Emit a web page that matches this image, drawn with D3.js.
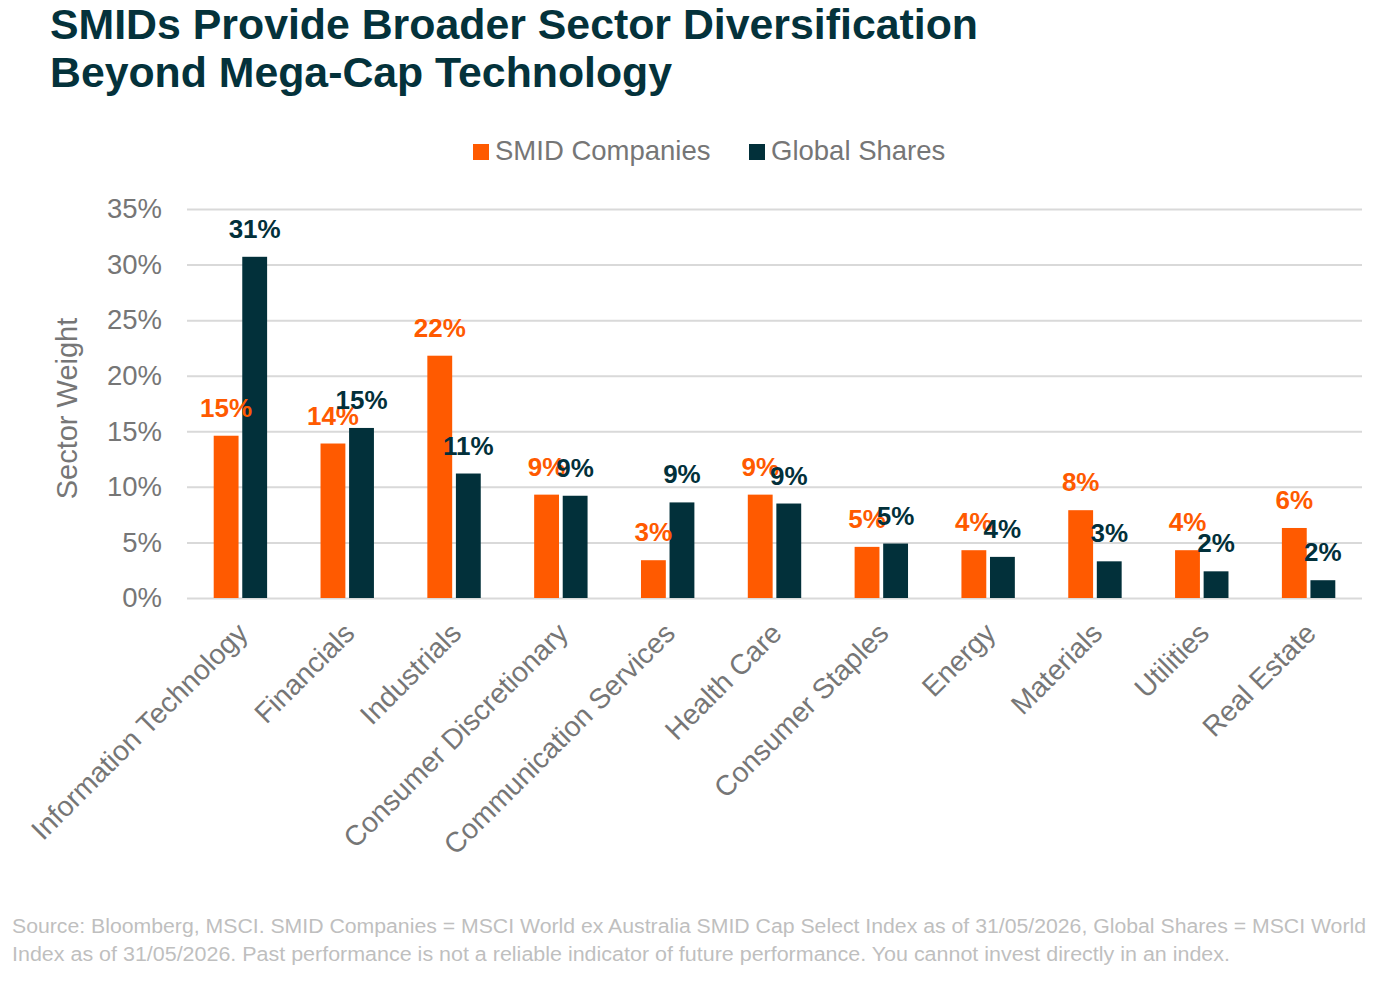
<!DOCTYPE html>
<html>
<head>
<meta charset="utf-8">
<script src="https://cdn.jsdelivr.net/npm/d3@7"></script>
<style>
  body { margin: 0; background: #fff; }
  svg { display: block; font-family: "Liberation Sans", Arial, sans-serif; }
</style>
</head>
<body>
<div id="chart"></div>
<script>
// chart data
const sectors = ["Information Technology", "Financials", "Industrials", "Consumer Discretionary",
  "Communication Services", "Health Care", "Consumer Staples", "Energy", "Materials", "Utilities", "Real Estate"];
const smidValues = [14.6, 13.9, 21.8, 9.3, 3.4, 9.3, 4.6, 4.3, 7.9, 4.3, 6.3];
const globalValues = [30.7, 15.3, 11.2, 9.2, 8.6, 8.5, 4.9, 3.7, 3.3, 2.4, 1.6];
const seriesNames = ["SMID Companies", "Global Shares"];
const yTicks = [0, 5, 10, 15, 20, 25, 30, 35];

const width = 1396, height = 981;
const plot = { left: 187, right: 1362, top: 209, bottom: 598 };
const colors = ["#FF5A00", "#02303A"];
const grey = "#767676";

const svg = d3.select("#chart").append("svg")
  .attr("width", width)
  .attr("height", height);

// title
const title = svg.append("g").attr("fill", "#04323B").attr("font-weight", "bold").attr("font-size", 43);
title.append("text").attr("x", 50).attr("y", 39)
  .attr("textLength", 928).attr("lengthAdjust", "spacingAndGlyphs")
  .text("SMIDs Provide Broader Sector Diversification");
title.append("text").attr("x", 50).attr("y", 87)
  .attr("textLength", 622).attr("lengthAdjust", "spacingAndGlyphs")
  .text("Beyond Mega-Cap Technology");

// scales
const x0 = d3.scaleBand().domain(sectors)
  .range([plot.left, plot.right]).paddingInner(0.5).paddingOuter(0.25);
const x1 = d3.scaleBand().domain(seriesNames)
  .range([0, x0.bandwidth()]).paddingInner(0.13);
const y = d3.scaleLinear().domain([0, 35]).range([plot.bottom, plot.top]);

// gridlines + y axis
const yAxis = d3.axisLeft(y).tickValues(yTicks)
  .tickSize(-(plot.right - plot.left)).tickFormat(d => d + "%");
const gy = svg.append("g").attr("transform", `translate(${plot.left},0)`).call(yAxis);
gy.select(".domain").remove();
gy.selectAll(".tick line").attr("stroke", "#D9D9D9").attr("stroke-width", 2);
gy.selectAll(".tick text").attr("x", -25).attr("fill", grey)
  .attr("font-size", 27.5).attr("font-family", "Liberation Sans, Arial, sans-serif");

svg.append("text")
  .attr("transform", `translate(77,${(plot.top + plot.bottom) / 2 + 5}) rotate(-90)`)
  .attr("text-anchor", "middle").attr("fill", grey).attr("font-size", 29)
  .text("Sector Weight");

// x axis labels
const gx = svg.append("g").attr("transform", `translate(0,${plot.bottom})`)
  .call(d3.axisBottom(x0).tickSize(0));
gx.select(".domain").remove();
gx.selectAll(".tick text")
  .attr("fill", grey).attr("font-size", 28.3)
  .attr("font-family", "Liberation Sans, Arial, sans-serif")
  .attr("text-anchor", "end")
  .attr("dy", "0.35em").attr("y", 0)
  .attr("transform", "translate(2,30) rotate(-45)");

// bars
const rows = sectors.map((s, i) => ({ sector: s, vals: [smidValues[i], globalValues[i]] }));
const groups = svg.append("g").selectAll("g").data(rows).enter().append("g")
  .attr("transform", d => `translate(${x0(d.sector)},0)`);

groups.selectAll("rect")
  .data(d => d.vals.map((v, k) => ({ v, k })))
  .enter().append("rect")
  .attr("x", d => x1(seriesNames[d.k]))
  .attr("width", x1.bandwidth())
  .attr("y", d => y(d.v))
  .attr("height", d => y(0) - y(d.v))
  .attr("fill", d => colors[d.k]);

groups.selectAll("text.lbl")
  .data(d => d.vals.map((v, k) => ({ v, k })))
  .enter().append("text")
  .attr("class", "lbl")
  .attr("x", d => x1(seriesNames[d.k]) + x1.bandwidth() / 2)
  .attr("y", d => y(d.v) - 19)
  .attr("text-anchor", "middle")
  .attr("font-weight", "bold").attr("font-size", 26)
  .attr("fill", d => colors[d.k])
  .text(d => Math.round(d.v) + "%");

// legend
const legend = svg.append("g");
const legendX = [473, 749];
seriesNames.forEach((name, k) => {
  legend.append("rect").attr("x", legendX[k]).attr("y", 144)
    .attr("width", 16).attr("height", 16).attr("fill", colors[k]);
  legend.append("text").attr("x", legendX[k] + 22).attr("y", 160)
    .attr("fill", grey).attr("font-size", 27.5)
    .text(name);
});

// footnote
const foot = svg.append("g").attr("fill", "#BFBFBF").attr("font-size", 19.5);
foot.append("text").attr("x", 12).attr("y", 933)
  .attr("textLength", 1354).attr("lengthAdjust", "spacingAndGlyphs")
  .text("Source: Bloomberg, MSCI. SMID Companies = MSCI World ex Australia SMID Cap Select Index as of 31/05/2026, Global Shares = MSCI World");
foot.append("text").attr("x", 12).attr("y", 961)
  .attr("textLength", 1218).attr("lengthAdjust", "spacingAndGlyphs")
  .text("Index as of 31/05/2026. Past performance is not a reliable indicator of future performance. You cannot invest directly in an index.");
</script>
</body>
</html>
